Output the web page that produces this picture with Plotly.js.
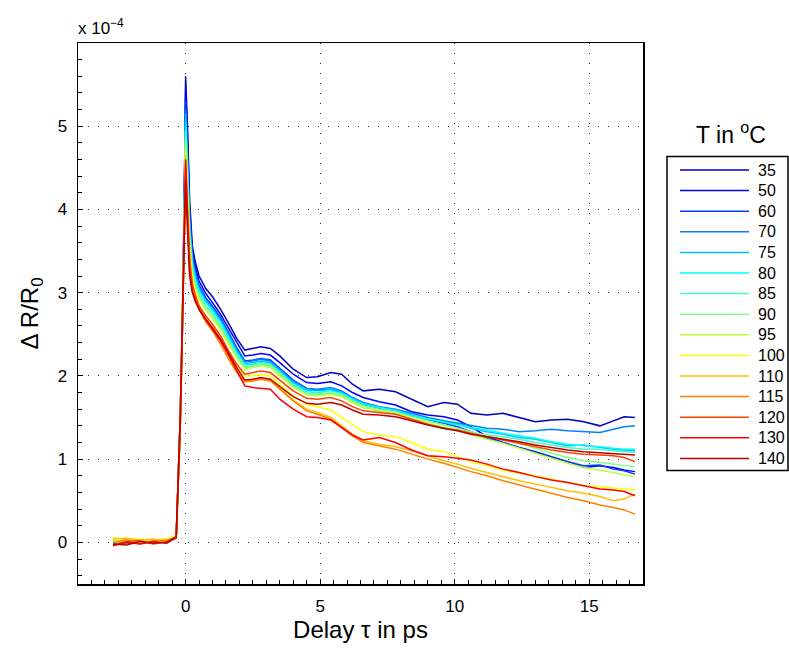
<!DOCTYPE html>
<html><head><meta charset="utf-8">
<script src="https://cdn.plot.ly/plotly-3.0.1.min.js"></script>
<style>html,body{margin:0;padding:0;background:#fff}#chart{width:789px;height:648px}</style>
</head><body><div id="chart"></div>
<script>
// Delay times (ps)
const time = [-2.7, -2.2, -1.7, -1.2, -0.7, -0.35, -0.2, -0.1, -0.05, 0, 0.07, 0.15, 0.25,
  0.35, 0.5, 0.75, 1.0, 1.3, 1.6, 1.9, 2.2, 2.5, 2.8, 3.15, 3.5, 4.0, 4.5, 4.9, 5.4, 5.8, 6.2, 6.6,
  7.2, 7.8, 8.4, 9.0, 9.6, 10.1, 10.6, 11.2, 11.8, 12.4, 13.0, 13.6, 14.2, 14.8, 15.4, 15.9, 16.3, 16.7];

const temps = ['35', '50', '60', '70', '75', '80', '85', '90', '95', '100', '110', '115', '120', '130', '140'];
const colors = ['#0000bf', '#0000ff', '#0040ff', '#0080ff', '#00bfff', '#00ffff', '#40ffbf', '#80ff80',
  '#bfff40', '#ffff00', '#ffbf00', '#ff8000', '#ff4000', '#ff0000', '#bf0000'];

// ΔR/R0 in units of 1e-4
const s35 = [0.02, -0.01, 0.01, 0.00, 0.02, 0.06, 1.5, 3.0, 4.2, 5.6, 5.0, 4.1, 3.56,
  3.38, 3.2, 3.05, 2.95, 2.8, 2.63, 2.45, 2.31, 2.33, 2.35, 2.33, 2.24, 2.08, 1.98, 1.99, 2.04, 2.02, 1.9, 1.82,
  1.84, 1.81, 1.72, 1.63, 1.68, 1.66, 1.55, 1.53, 1.55, 1.5, 1.45, 1.47, 1.48, 1.45, 1.4, 1.46, 1.51, 1.5];
const s50 = [0.01, 0.02, -0.01, 0.01, 0.00, 0.05, 1.4, 2.9, 4.1, 5.45, 4.85, 4.0, 3.5,
  3.32, 3.14, 2.99, 2.88, 2.74, 2.57, 2.4, 2.24, 2.25, 2.27, 2.25, 2.16, 2.02, 1.92, 1.91, 1.93, 1.88, 1.8, 1.74,
  1.69, 1.65, 1.57, 1.53, 1.51, 1.47, 1.39, 1.27, 1.2, 1.14, 1.09, 1.03, 0.97, 0.9, 0.92, 0.9, 0.87, 0.85];
const s60 = [0.00, 0.01, 0.02, -0.01, 0.01, 0.07, 1.5, 2.9, 4.1, 5.3, 4.7, 3.9, 3.45,
  3.27, 3.09, 2.94, 2.84, 2.7, 2.52, 2.34, 2.18, 2.19, 2.21, 2.19, 2.09, 1.95, 1.85, 1.83, 1.84, 1.8, 1.72, 1.66,
  1.61, 1.58, 1.52, 1.47, 1.43, 1.39, 1.33, 1.25, 1.2, 1.14, 1.08, 1.02, 0.97, 0.92, 0.93, 0.88, 0.86, 0.82];
const s70 = [0.01, -0.01, 0.00, 0.02, 0.01, 0.05, 1.4, 2.8, 4.0, 5.2, 4.6, 3.85, 3.42,
  3.24, 3.07, 2.92, 2.82, 2.68, 2.5, 2.32, 2.17, 2.18, 2.2, 2.18, 2.08, 1.94, 1.85, 1.84, 1.86, 1.82, 1.74, 1.68,
  1.63, 1.6, 1.55, 1.5, 1.46, 1.43, 1.4, 1.37, 1.36, 1.33, 1.34, 1.36, 1.34, 1.33, 1.32, 1.36, 1.39, 1.4];
const s75 = [-0.01, 0.01, 0.02, 0.00, 0.02, 0.06, 1.5, 2.9, 4.0, 5.15, 4.55, 3.8, 3.38,
  3.2, 3.04, 2.9, 2.8, 2.66, 2.48, 2.3, 2.15, 2.16, 2.18, 2.16, 2.06, 1.92, 1.83, 1.82, 1.84, 1.8, 1.73, 1.67,
  1.62, 1.59, 1.53, 1.48, 1.45, 1.42, 1.37, 1.33, 1.3, 1.26, 1.24, 1.2, 1.16, 1.17, 1.14, 1.12, 1.11, 1.1];
const s80 = [0.02, 0.00, 0.01, 0.01, -0.01, 0.05, 1.4, 2.8, 3.9, 5.05, 4.5, 3.75, 3.35,
  3.17, 3.01, 2.88, 2.78, 2.64, 2.46, 2.28, 2.13, 2.14, 2.16, 2.14, 2.05, 1.9, 1.81, 1.8, 1.82, 1.79, 1.72, 1.66,
  1.62, 1.58, 1.52, 1.48, 1.44, 1.41, 1.38, 1.35, 1.31, 1.28, 1.25, 1.21, 1.18, 1.16, 1.15, 1.13, 1.12, 1.12];
const s85 = [0.00, 0.02, -0.01, 0.01, 0.01, 0.06, 1.5, 2.9, 3.9, 4.95, 4.4, 3.7, 3.3,
  3.13, 2.97, 2.84, 2.74, 2.6, 2.43, 2.25, 2.11, 2.12, 2.14, 2.12, 2.02, 1.88, 1.79, 1.77, 1.79, 1.76, 1.69, 1.62,
  1.58, 1.55, 1.48, 1.42, 1.36, 1.34, 1.31, 1.29, 1.27, 1.24, 1.2, 1.17, 1.14, 1.12, 1.12, 1.1, 1.09, 1.08];
const s90 = [0.01, 0.00, 0.02, -0.02, 0.02, 0.05, 1.4, 2.8, 3.85, 4.85, 4.3, 3.62, 3.25,
  3.1, 2.95, 2.82, 2.72, 2.58, 2.41, 2.24, 2.1, 2.12, 2.15, 2.13, 2.03, 1.88, 1.79, 1.78, 1.8, 1.77, 1.7, 1.64,
  1.6, 1.57, 1.51, 1.46, 1.41, 1.37, 1.33, 1.28, 1.24, 1.19, 1.13, 1.07, 1.02, 0.98, 0.96, 0.94, 0.92, 0.91];
const s95 = [0.03, 0.01, 0.00, 0.02, 0.00, 0.06, 1.5, 2.8, 3.8, 4.8, 4.25, 3.58, 3.22,
  3.07, 2.92, 2.79, 2.69, 2.55, 2.38, 2.21, 2.08, 2.1, 2.12, 2.1, 2.0, 1.86, 1.77, 1.76, 1.78, 1.75, 1.68, 1.62,
  1.58, 1.55, 1.49, 1.44, 1.39, 1.35, 1.3, 1.24, 1.19, 1.13, 1.07, 1.01, 0.95, 0.9, 0.87, 0.84, 0.81, 0.79];
const s100 = [0.06, 0.03, 0.04, 0.02, 0.05, 0.08, 1.4, 2.7, 3.7, 4.7, 4.15, 3.5, 3.15,
  3.0, 2.85, 2.7, 2.6, 2.45, 2.28, 2.12, 2.0, 2.0, 2.02, 2.0, 1.9, 1.76, 1.66, 1.63, 1.59, 1.5, 1.41, 1.33,
  1.29, 1.27, 1.2, 1.12, 1.09, 1.03, 0.97, 0.92, 0.87, 0.83, 0.8, 0.76, 0.72, 0.68, 0.67, 0.65, 0.64, 0.63];
const s110 = [0.04, 0.05, 0.03, 0.04, 0.01, 0.06, 1.4, 2.7, 3.7, 4.65, 4.1, 3.45, 3.12,
  2.98, 2.82, 2.67, 2.56, 2.4, 2.22, 2.06, 1.94, 1.95, 1.97, 1.95, 1.85, 1.71, 1.6, 1.56, 1.5, 1.4, 1.3, 1.22,
  1.18, 1.15, 1.1, 1.04, 0.98, 0.94, 0.89, 0.84, 0.79, 0.74, 0.7, 0.66, 0.62, 0.59, 0.55, 0.5, 0.52, 0.58];
const s115 = [0.00, 0.03, -0.02, 0.02, 0.03, 0.05, 1.3, 2.6, 3.6, 4.55, 4.0, 3.4, 3.08,
  2.95, 2.8, 2.65, 2.54, 2.38, 2.2, 2.04, 1.93, 1.94, 1.96, 1.94, 1.84, 1.7, 1.58, 1.54, 1.48, 1.38, 1.28, 1.2,
  1.16, 1.12, 1.06, 1.0, 0.95, 0.9, 0.85, 0.8, 0.74, 0.69, 0.64, 0.59, 0.54, 0.5, 0.45, 0.42, 0.39, 0.34];
const s120 = [-0.03, 0.01, 0.02, -0.02, 0.01, 0.05, 1.4, 2.7, 3.6, 4.5, 3.95, 3.35, 3.1,
  2.98, 2.84, 2.72, 2.62, 2.48, 2.3, 2.14, 2.02, 2.04, 2.06, 2.04, 1.95, 1.82, 1.73, 1.72, 1.74, 1.7, 1.63, 1.58,
  1.56, 1.54, 1.48, 1.42, 1.37, 1.35, 1.31, 1.27, 1.23, 1.19, 1.15, 1.11, 1.08, 1.06, 1.05, 1.04, 1.02, 0.97];
const s130 = [-0.04, 0.00, -0.02, 0.01, -0.01, 0.06, 1.5, 2.9, 3.7, 4.6, 3.9, 3.25, 3.02,
  2.92, 2.8, 2.67, 2.56, 2.42, 2.25, 2.06, 1.88, 1.86, 1.85, 1.84, 1.72, 1.6, 1.51, 1.5, 1.47, 1.38, 1.29, 1.23,
  1.26, 1.2, 1.11, 1.04, 1.03, 1.01, 0.99, 0.94, 0.88, 0.84, 0.79, 0.75, 0.72, 0.68, 0.64, 0.63, 0.61, 0.56];
const s140 = [-0.02, -0.03, 0.01, -0.01, 0.00, 0.07, 1.5, 2.9, 3.6, 4.35, 3.75, 3.2, 3.0,
  2.9, 2.8, 2.68, 2.58, 2.44, 2.27, 2.1, 1.95, 1.96, 1.98, 1.96, 1.87, 1.75, 1.67, 1.66, 1.68, 1.65, 1.59, 1.54,
  1.53, 1.51, 1.46, 1.41, 1.37, 1.34, 1.3, 1.27, 1.24, 1.21, 1.17, 1.14, 1.11, 1.09, 1.08, 1.07, 1.06, 1.05];

const series = [s35, s50, s60, s70, s75, s80, s85, s90, s95, s100, s110, s115, s120, s130, s140];

const FONT = 'Liberation Sans, Arial, Helvetica, sans-serif';
const traces = series.map((ys, i) => ({
  x: time, y: ys, type: 'scatter', mode: 'lines', name: temps[i],
  line: {color: colors[i], width: 1.5}, showlegend: false, hoverinfo: 'skip'
}));

// custom legend (box, sample lines, labels) built from temps/colors
const W = 565, H = 541, L = 78, T = 43;
const px2x = p => (p - L) / W;
const py2y = p => (T + H - p) / H;
const shapes = [{type: 'rect', xref: 'paper', yref: 'paper',
  x0: px2x(667), x1: px2x(788), y0: py2y(470.5), y1: py2y(156.5),
  line: {color: '#000', width: 1.5}, fillcolor: 'rgba(255,255,255,0)'}];
const annotations = [
  {xref: 'paper', yref: 'paper', x: 0, y: 1, xanchor: 'left', yanchor: 'bottom', yshift: 3, xshift: -2,
   text: 'x 10<sup>−4</sup>', showarrow: false, font: {size: 17, family: FONT, color: '#000'}},
  {xref: 'paper', yref: 'paper', x: px2x(731), y: py2y(133), xanchor: 'center', yanchor: 'middle',
   text: 'T in <sup>o</sup>C', showarrow: false, font: {size: 23, family: FONT, color: '#000'}}
];
temps.forEach((t, i) => {
  const py = 170 + 20.6 * i;
  shapes.push({type: 'line', xref: 'paper', yref: 'paper', x0: px2x(680), x1: px2x(749),
    y0: py2y(py), y1: py2y(py), line: {color: colors[i], width: 1.5}});
  annotations.push({xref: 'paper', yref: 'paper', x: px2x(756), y: py2y(py), xanchor: 'left', yanchor: 'middle',
    text: t, showarrow: false, font: {size: 16, family: FONT, color: '#000'}});
});

const tickStyle = {ticks: 'inside', ticklen: 5, tickwidth: 1, tickcolor: '#000'};
const axisCommon = Object.assign({}, tickStyle, {
  showline: true, linecolor: '#000', linewidth: 1.5, mirror: true,
  showgrid: true, gridcolor: '#333', gridwidth: 1, griddash: '1px,9px',
  zeroline: false, tickfont: {size: 17, family: FONT, color: '#000'}
});
const xMinor = {dtick: 0.5, tick0: 0, ticks: 'inside', ticklen: 4, tickcolor: '#000', showgrid: false};
const yMinor = {dtick: 0.2, tick0: 0, ticks: 'inside', ticklen: 4, tickcolor: '#000', showgrid: false};
const xRange = [-4, 17], yRange = [-0.5, 5.999];

const layout = {
  width: 789, height: 648,
  margin: {l: 78, r: 146, t: 43, b: 64},
  paper_bgcolor: '#fff', plot_bgcolor: '#fff',
  font: {family: FONT, color: '#000', size: 17},
  xaxis: Object.assign({}, axisCommon, {
    range: xRange, tick0: 0, dtick: 5, ticklabelstandoff: 6, minor: xMinor,
    title: {text: 'Delay τ in ps', font: {size: 24, family: FONT, color: '#000'}, standoff: 6}
  }),
  yaxis: Object.assign({}, axisCommon, {
    range: yRange, tick0: 0, dtick: 1, ticklabelstandoff: 6, minor: yMinor,
    title: {text: 'Δ R/R<sub>0</sub>', font: {size: 24, family: FONT, color: '#000'}, standoff: 12}
  }),
  // mirrored tick marks on the top and right edges
  xaxis2: Object.assign({}, tickStyle, {overlaying: 'x', side: 'top', anchor: 'y', range: xRange,
    tick0: 0, dtick: 5, showticklabels: false, showgrid: false, zeroline: false, showline: false, minor: xMinor}),
  yaxis2: Object.assign({}, tickStyle, {overlaying: 'y', side: 'right', anchor: 'x', range: yRange,
    tick0: 0, dtick: 1, showticklabels: false, showgrid: false, zeroline: false, showline: false, minor: yMinor}),
  shapes: shapes, annotations: annotations, showlegend: false
};

Plotly.newPlot('chart', traces, layout, {staticPlot: true, displayModeBar: false});
</script>
</body></html>
